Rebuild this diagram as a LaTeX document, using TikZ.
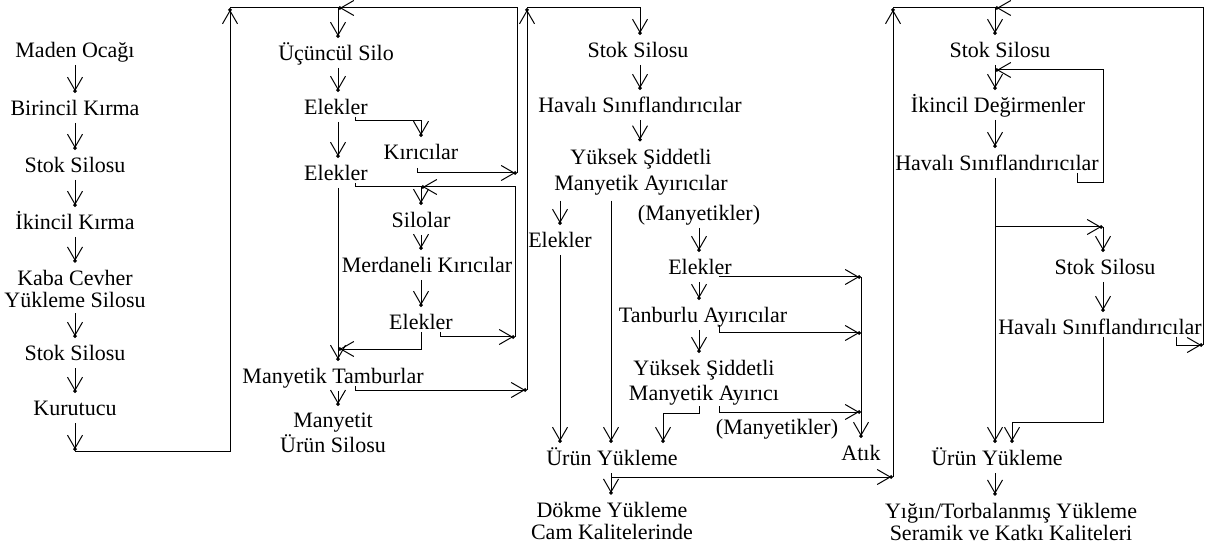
\documentclass[tikz,border=0pt]{standalone}
\usepackage{fontspec}
\setmainfont{Liberation Serif}
\usetikzlibrary{arrows.meta}

\begin{document}
\begin{tikzpicture}[x=0.5pt,y=-0.5pt,line width=0.5pt,
        font=\fontsize{11pt}{11pt}\selectfont,
        unit/.style={inner sep=0pt,text height=7.5pt,text depth=1pt},
        unit2/.style={inner sep=0pt,align=center},
        flow/.style={-{Straight Barb[length=6.5pt,width=7.5pt,sep=-0.9pt]Circle[length=1.8pt]}},
        next/.style={flow,shorten <=2.5pt,shorten >=3.5pt}]
        \useasboundingbox (0,0) rectangle (1219,550);

        \node[unit] (maden) at (75,51) {Maden Ocağı};
        \node[unit] (birincil) at (75,109) {Birincil Kırma};
        \node[unit] (stok1) at (75,166) {Stok Silosu};
        \node[unit] (ikincil) at (75,223) {İkincil Kırma};
        \node[unit2] (kaba) at (75,289) {Kaba Cevher\\Yükleme Silosu};
        \node[unit] (stok2) at (75,354) {Stok Silosu};
        \node[unit] (kurutucu) at (75,409) {Kurutucu};

        \node[unit] (ucuncul) at (336,54) {Üçüncül Silo};
        \node[unit] (elek1) at (336,108) {Elekler};
        \node[unit] (kirici) at (421,153) {Kırıcılar};
        \node[unit] (elek2) at (336,174) {Elekler};
        \node[unit] (silolar) at (421,221) {Silolar};
        \node[unit] (merdaneli) at (427,266) {Merdaneli Kırıcılar};
        \node[unit] (elek3) at (421,323) {Elekler};
        \node[unit] (tambur) at (333,377) {Manyetik Tamburlar};
        \node[unit2] (manyetit) at (333,433) {Manyetit\\Ürün Silosu};

        \node[unit] (stok3) at (638,51) {Stok Silosu};
        \node[unit] (haval1) at (640,106) {Havalı Sınıflandırıcılar};
        \node[unit2] (yuksek1) at (641,172) {Yüksek Şiddetli\\[2pt]Manyetik Ayırıcılar};
        \node[unit] (elek4) at (560,241) {Elekler};
        \node[unit] (manyet1) at (699,214) {(Manyetikler)};
        \node[unit] (elek5) at (700,268) {Elekler};
        \node[unit] (tanburlu) at (703,316) {Tanburlu Ayırıcılar};
        \node[unit2] (yuksek2) at (704,383) {Yüksek Şiddetli\\[1.5pt]Manyetik Ayırıcı};
        \node[unit] (manyet2) at (777,428) {(Manyetikler)};
        \node[unit] (atik) at (861,454) {Atık};
        \node[unit] (urun1) at (612,459) {Ürün Yükleme};
        \node[unit2] (dokme) at (612,521) {Dökme Yükleme\\Cam Kalitelerinde};

        \node[unit] (stok4) at (1000,51) {Stok Silosu};
        \node[unit] (degirmen) at (998,106) {İkincil Değirmenler};
        \node[unit] (haval2) at (997,164) {Havalı Sınıflandırıcılar};
        \node[unit] (stok5) at (1105,268) {Stok Silosu};
        \node[unit] (haval3) at (1100,328) {Havalı Sınıflandırıcılar};
        \node[unit] (urun2) at (997,459) {Ürün Yükleme};
        \node[unit2] (yigin) at (1011,522) {Yığın/Torbalanmış Yükleme\\Seramik ve Katkı Kaliteleri};

        \coordinate (k1) at (75,451);
        \coordinate (k2) at (230,451);
        \coordinate (k3) at (230,8);
        \coordinate (d1) at (517,173);
        \coordinate (d2) at (517,8);
        \coordinate (e2) at (515,337);
        \coordinate (e3) at (515,187);
        \coordinate (f1) at (338,349);
        \coordinate (g1) at (527,390);
        \coordinate (g2) at (527,8);
        \coordinate (h1) at (861,277);
        \coordinate (h2) at (861,333);
        \coordinate (h3) at (861,412);
        \coordinate (i1) at (663,413);
        \coordinate (j1) at (611,477);
        \coordinate (m1) at (893,477);
        \coordinate (m2) at (893,8);
        \coordinate (n1) at (1103,183);
        \coordinate (n2) at (1103,70);
        \coordinate (p1) at (995,227);
        \coordinate (p2) at (1103,227);
        \coordinate (q1) at (1203,345);
        \coordinate (q2) at (1203,8);
        \coordinate (r1) at (1012,422);

        \draw[next] (maden) -- (birincil);
        \draw[next] (birincil) -- (stok1);
        \draw[next] (stok1) -- (ikincil);
        \draw[next] (ikincil) -- (kaba);
        \draw[next] (kaba) -- (stok2);
        \draw[next] (stok2) -- (kurutucu);
        \draw[flow,shorten <=2.5pt] (kurutucu) -- (k1);
        \draw[flow] (k1) -- (k2) -- (k3);
        \draw[next,shorten <=0pt] (k3) -| (ucuncul.north -| f1);

        \draw[next] (ucuncul.south -| f1) -- (f1 |- elek1.north);
        \draw[next] (elek1.south -| f1) -- (f1 |- elek2.north);
        \draw[next] (elek2.south -| f1) -- (f1 |- tambur.north);
        \draw[next] (tambur.south -| f1) -- (f1 |- manyetit.north);
        \draw[flow,shorten >=3.5pt] ([xshift=-6.5pt]elek1.south east) -- ++(0,4) -| (kirici);
        \draw[flow] ([xshift=-2pt,yshift=-3pt]kirici.south) |- (d1);
        \draw[flow] (d1) -- (d2) -- (f1 |- d2);
        \draw[flow,shorten >=3.5pt] ([xshift=-6.5pt]elek2.south east) -- ++(0,4) -| (silolar);
        \draw[next] (silolar) -- (silolar |- merdaneli.north);
        \draw[next] (merdaneli.south -| elek3) -- (elek3);
        \draw[flow] ([xshift=-6.5pt]elek3.south east) |- (e2);
        \draw[flow] (e2) -- (e3) -- (silolar |- e3);
        \draw[flow] (elek3) |- (f1);
        \draw[flow] ([xshift=11pt]tambur.south) |- (g1);
        \draw[flow] (g1) -- (g2);
        \draw[next,shorten <=0pt] (g2) -| (stok3.north -| haval1.south);

        \draw[next] (stok3.south -| haval1) -- (haval1);
        \draw[next] (haval1) -- (haval1 |- yuksek1.north);
        \draw[next] (yuksek1.south -| elek4) -- (elek4);
        \draw[next] (yuksek1.south -| j1) -- (j1 |- urun1.north);
        \draw[next] (elek4) -- (elek4 |- urun1.north);
        \draw[next] (manyet1) -- (manyet1 |- elek5.north);
        \draw[next] (elek5.south -| manyet1) -- (manyet1 |- tanburlu.north);
        \draw[next] (tanburlu.south -| manyet1) -- (manyet1 |- yuksek2.north);
        \draw[flow] ([xshift=-6.5pt]elek5.south east) |- (h1);
        \draw[flow] ([xshift=8pt]tanburlu.south) |- (h2);
        \draw[flow] ([xshift=7.5pt]yuksek2.south) |- (h3);
        \draw[next,shorten <=0pt] (h1) -- (atik);
        \draw[flow,shorten >=3.5pt] (yuksek2.south -| manyet1) |- (i1) -- (i1 |- urun1.north);
        \draw[next] (urun1.south -| j1) -- (j1 |- dokme.north);
        \draw[flow] (j1) -- (m1);
        \draw[flow] (m1) -- (m2);
        \draw[next,shorten <=0pt] (m2) -| (stok4.north -| p1);

        \draw[next] (stok4.south -| p1) -- (p1 |- degirmen.north);
        \draw[next] (degirmen.south -| p1) -- (p1 |- haval2.north);
        \draw[next] (haval2.south -| p1) -- (p1 |- urun2.north);
        \draw[flow] ([xshift=40pt]haval2.south) |- (n1) -- (n2) -- (p1 |- n2);
        \draw[flow] (p1) -- (p2);
        \draw[next,shorten <=0pt] (p2) -- (p2 |- stok5.north);
        \draw[next] (stok5.south -| p2) -- (p2 |- haval3.north);
        \draw[flow] ([xshift=38pt]haval3.south) |- (q1);
        \draw[flow] (q1) -- (q2) -- (p1 |- q2);
        \draw[flow,shorten >=3.5pt] (haval3.south -| p2) |- (r1) -- (r1 |- urun2.north);
        \draw[next] (urun2.south -| p1) -- (p1 |- yigin.north);
\end{tikzpicture}
\end{document}
